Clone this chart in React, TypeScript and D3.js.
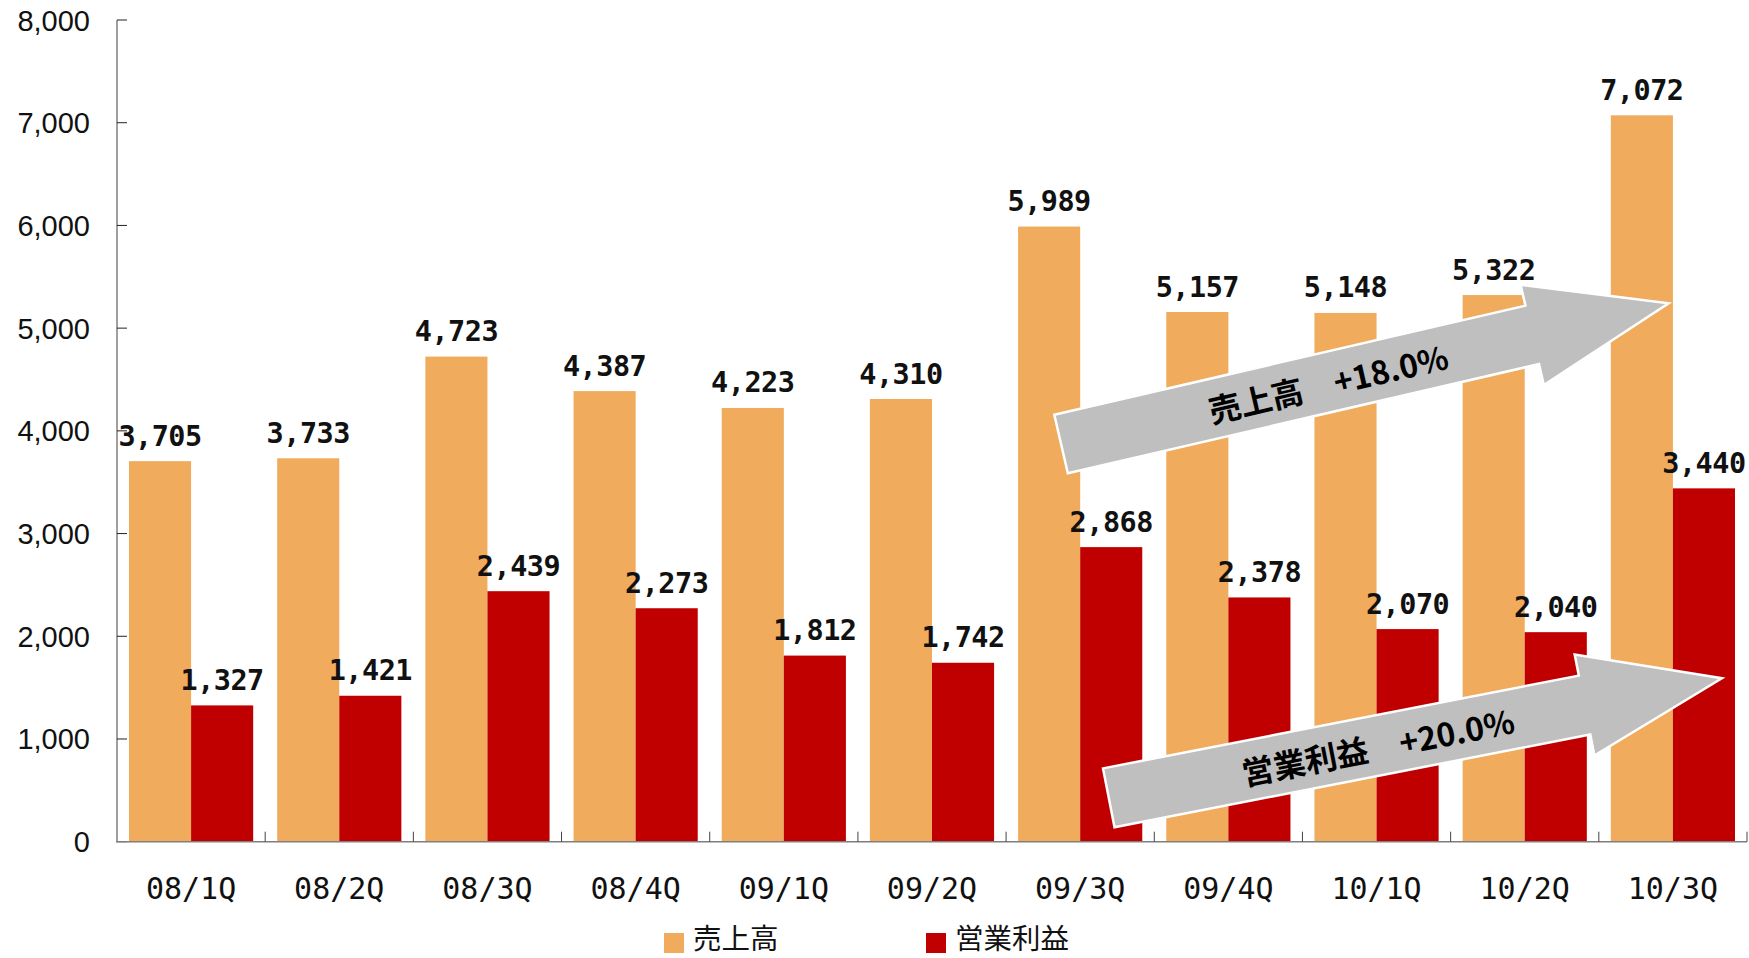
import React from "react";
import * as d3 from "d3";

// Quarterly results (units: million yen)
const categories = ["08/1Q", "08/2Q", "08/3Q", "08/4Q", "09/1Q", "09/2Q", "09/3Q", "09/4Q", "10/1Q", "10/2Q", "10/3Q"];
const sales = [3705, 3733, 4723, 4387, 4223, 4310, 5989, 5157, 5148, 5322, 7072];
const operatingProfit = [1327, 1421, 2439, 2273, 1812, 1742, 2868, 2378, 2070, 2040, 3440];
const yTicks = [0, 1000, 2000, 3000, 4000, 5000, 6000, 7000, 8000];
const seriesNames = ["売上高", "営業利益"];
const seriesColors = ["#F0AB5C", "#C00000"];

// Growth trend call-outs, anchored in data space (category index, value)
const trendNames = ["売上高", "営業利益"];
const trendRates = ["+18.0%", "+20.0%"];
const trendFrom = [[6.371, 3872], [6.693, 427]];
const trendTo = [[10.471, 5242], [10.831, 1591]];

const W = 1749;
const H = 958;
const left = 117;
const right = 1747;
const top = 20;
const bottom = 841.7;

export default function App() {
  const x = d3.scaleBand<string>().domain(categories).range([left, right]).padding(0);
  const inner = d3
    .scaleBand<string>()
    .domain(seriesNames)
    .range([12, x.step() - 12])
    .padding(0);
  const y = d3.scaleLinear().domain([0, 8000]).range([bottom, top]);
  const fmt = d3.format(",");
  const xAt = (u: number) => left + u * x.step();

  const series = [sales, operatingProfit];

  const shaftW = 60;
  const headW = 103;
  const headL = 140;

  return (
    <svg
      width={W}
      height={H}
      style={{ position: "absolute", left: 0, top: 0, background: "#fff" }}
    >
      {/* bars */}
      {series.map((vals, si) =>
        vals.map((v, i) => (
          <rect
            key={`b${si}-${i}`}
            x={(x(categories[i]) as number) + (inner(seriesNames[si]) as number)}
            y={y(v)}
            width={inner.bandwidth()}
            height={y(0) - y(v)}
            fill={seriesColors[si]}
          />
        ))
      )}

      {/* value labels */}
      {series.map((vals, si) =>
        vals.map((v, i) => (
          <text
            key={`l${si}-${i}`}
            x={(x(categories[i]) as number) + (inner(seriesNames[si]) as number) + inner.bandwidth() / 2}
            y={y(v) - 15.5}
            textAnchor="middle"
            fontFamily="'DejaVu Sans Mono', monospace"
            fontWeight="bold"
            fontSize={28.5}
            letterSpacing={-0.5}
            fill="#111"
          >
            {fmt(v)}
          </text>
        ))
      )}

      {/* y axis */}
      <line x1={left} x2={left} y1={top} y2={bottom} stroke="#7f7f7f" strokeWidth={1.5} />
      {yTicks.map((t) => (
        <g key={`yt${t}`}>
          <line x1={left} x2={left + 10} y1={y(t)} y2={y(t)} stroke="#222" strokeWidth={1} />
          <text
            x={90}
            y={y(t) + 10.5}
            textAnchor="end"
            fontFamily="'Liberation Sans', Arial, sans-serif"
            fontSize={29}
            fill="#111"
          >
            {fmt(t)}
          </text>
        </g>
      ))}

      {/* x axis */}
      <line x1={left - 1} x2={right} y1={bottom} y2={bottom} stroke="#7f7f7f" strokeWidth={1.5} />
      {categories.map((c) => (
        <g key={`xt${c}`}>
          <line
            x1={(x(c) as number) + x.step()}
            x2={(x(c) as number) + x.step()}
            y1={bottom}
            y2={bottom - 10}
            stroke="#444"
            strokeWidth={1}
          />
          <text
            x={(x(c) as number) + x.bandwidth() / 2}
            y={899}
            textAnchor="middle"
            fontFamily="'DejaVu Sans Mono', monospace"
            fontSize={30}
            fill="#111"
          >
            {c}
          </text>
        </g>
      ))}

      {/* trend arrows */}
      {trendNames.map((name, k) => {
        const x0 = xAt(trendFrom[k][0]);
        const y0 = y(trendFrom[k][1]);
        const x1 = xAt(trendTo[k][0]);
        const y1 = y(trendTo[k][1]);
        const L = Math.hypot(x1 - x0, y1 - y0);
        const ang = (Math.atan2(y1 - y0, x1 - x0) * 180) / Math.PI;
        const pts: [number, number][] = [
          [0, -shaftW / 2],
          [L - headL, -shaftW / 2],
          [L - headL, -headW / 2],
          [L, 0],
          [L - headL, headW / 2],
          [L - headL, shaftW / 2],
          [0, shaftW / 2],
        ];
        return (
          <g key={`arrow${k}`} transform={`translate(${x0},${y0}) rotate(${ang})`}>
            <polygon
              points={pts.map((p) => p.join(",")).join(" ")}
              fill="#BFBFBF"
              stroke="#fff"
              strokeWidth={2.5}
              strokeLinejoin="miter"
            />
            <text
              x={274}
              y={0}
              textAnchor="middle"
              dominantBaseline="central"
              fontFamily="'Noto Sans CJK JP', sans-serif"
              fontWeight={700}
              fontSize={32}
              fill="#000"
            >
              {name}
              {"\u3000"}
              {trendRates[k]}
            </text>
          </g>
        );
      })}

      {/* legend */}
      {seriesNames.map((name, si) => {
        const lx = si === 0 ? 664 : 926;
        return (
          <g key={`lg${si}`}>
            <rect x={lx} y={933} width={20} height={20} fill={seriesColors[si]} />
            <text
              x={lx + 29}
              y={949}
              fontFamily="'Noto Sans CJK JP', sans-serif"
              fontSize={28.5}
              fill="#111"
            >
              {name}
            </text>
          </g>
        );
      })}
    </svg>
  );
}
